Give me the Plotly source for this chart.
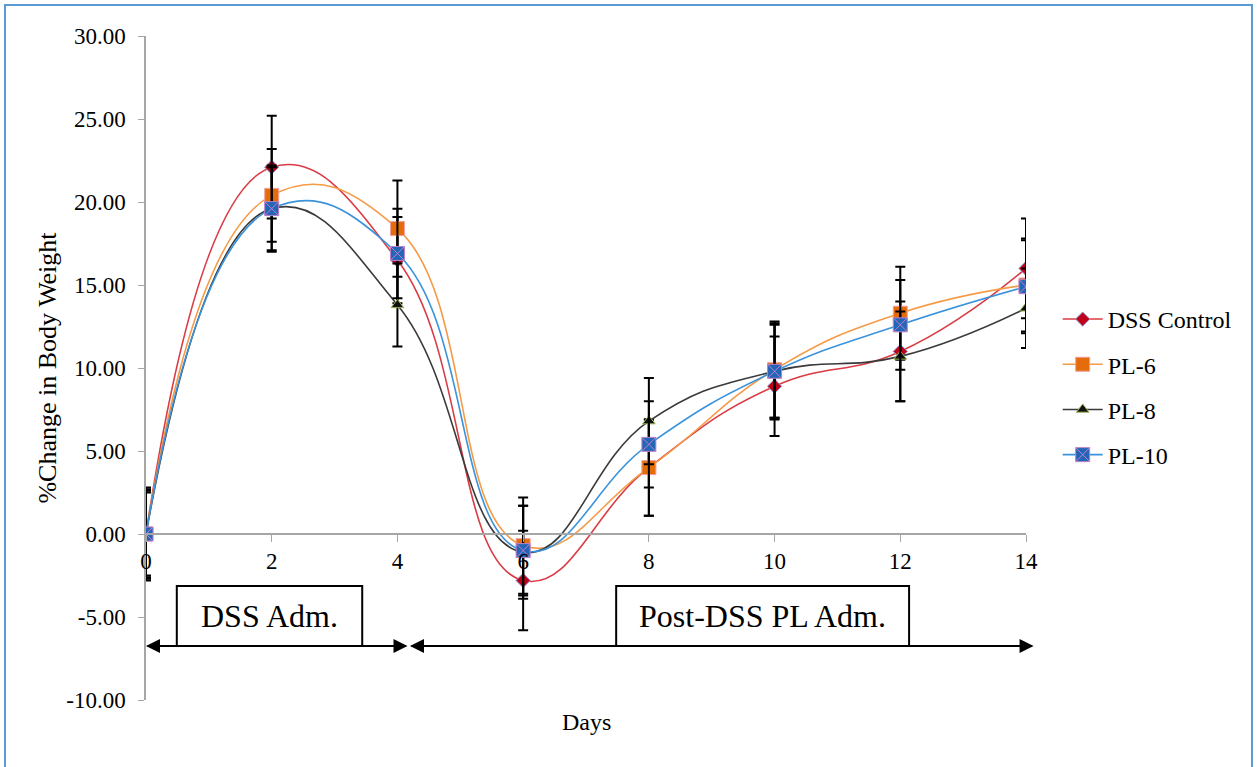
import plotly.graph_objects as go

days = [0, 2, 4, 6, 8, 10, 12, 14]
series_names = ["DSS Control", "PL-6", "PL-8", "PL-10"]
dss_control = [0.0, 22.1, 16.5, -2.8, 4.0, 8.9, 11.0, 16.0]
pl6 = [0.0, 20.4, 18.4, -0.7, 4.0, 9.9, 13.3, 15.0]
pl8 = [0.0, 19.6, 13.8, -1.1, 6.8, 9.8, 10.7, 13.6]
pl10 = [0.0, 19.6, 16.9, -1.0, 5.4, 9.8, 12.6, 14.9]
err_dss = [2.8, 3.1, 2.6, 3.0, 2.9, 3.0, 3.0, 3.0]
err_pl6 = [2.7, 2.8, 2.9, 2.9, 2.9, 2.9, 2.8, 2.8]
err_pl8 = [2.6, 2.6, 2.5, 2.8, 2.6, 2.9, 2.7, 2.4]
err_pl10 = [2.5, 2.5, 2.7, 2.7, 2.6, 2.8, 2.7, 2.8]
y_ticks = [-10, -5, 0, 5, 10, 15, 20, 25, 30]
y_tick_labels = ["-10.00", "-5.00", "0.00", "5.00", "10.00", "15.00", "20.00", "25.00", "30.00"]

values = [dss_control, pl6, pl8, pl10]
errors = [err_dss, err_pl6, err_pl8, err_pl10]
line_colors = ["#DA3B44", "#F59A45", "#3A3A3A", "#3B93DB"]
marker_fill = ["#C0001A", "#E46C0A", "#111111", "#2366B8"]
marker_edge = ["#8EA9DB", "#F0A0A0", "#9BBB59", "#C080C8"]
symbols = ["diamond", "square", "triangle-up", "square-x"]
sizes = [11, 14, 11, 14]

FONT = "Liberation Serif, Times New Roman, serif"

fig = go.Figure()
for i, name in enumerate(series_names):
    fig.add_trace(go.Scatter(
        x=days, y=values[i], name=name, mode="lines+markers",
        legendgroup=name,
        line=dict(color=line_colors[i], width=1.6, shape="spline", smoothing=1.3),
        marker=dict(symbol=symbols[i], size=sizes[i], color=marker_fill[i],
                    line=dict(color=marker_edge[i], width=1)),
        error_y=dict(type="data", array=errors[i], visible=True,
                     color="black", thickness=2, width=5),
    ))

# Annotation boxes and arrows
arrow_y = -6.75
fig.add_shape(type="rect", xref="x", yref="y", x0=0.49, x1=3.44, y0=-3.13, y1=arrow_y,
              line=dict(color="black", width=2), fillcolor="white", layer="above")
fig.add_shape(type="rect", xref="x", yref="y", x0=7.48, x1=12.14, y0=-3.13, y1=arrow_y,
              line=dict(color="black", width=2), fillcolor="white", layer="above")
fig.add_annotation(x=1.965, y=-4.95, xref="x", yref="y", text="DSS Adm.", showarrow=False,
                   font=dict(family=FONT, size=32, color="black"))
fig.add_annotation(x=9.81, y=-4.95, xref="x", yref="y", text="Post-DSS PL Adm.", showarrow=False,
                   font=dict(family=FONT, size=32, color="black"))
for (xa, xb) in [(0.0, 4.16), (4.2, 14.12)]:
    for (tip, tail) in [(xa, xb), (xb, xa)]:
        fig.add_annotation(x=tip, y=arrow_y, ax=tail, ay=arrow_y, xref="x", yref="y",
                           axref="x", ayref="y", text="", showarrow=True,
                           arrowhead=2, arrowsize=1.4, arrowwidth=2, arrowcolor="black",
                           standoff=0, startstandoff=0)

# Outer border
fig.add_shape(type="rect", xref="paper", yref="paper", x0=-0.1602, x1=1.2568, y0=-0.2, y1=1.0467,
              line=dict(color="#5B9BD5", width=2), fillcolor="rgba(0,0,0,0)", layer="below")

fig.update_layout(
    width=1257, height=767,
    margin=dict(l=146, r=231, t=36, b=67),
    paper_bgcolor="white", plot_bgcolor="white",
    font=dict(family=FONT, color="black"),
    showlegend=True,
    legend=dict(x=1.036, y=0.607, xanchor="left", yanchor="top",
                font=dict(family=FONT, size=24, color="black"),
                tracegroupgap=11, itemwidth=40, bgcolor="rgba(0,0,0,0)"),
    xaxis=dict(range=[0, 14], tickvals=days, ticktext=[str(d) for d in days],
               showgrid=False, zeroline=False, showline=True, linecolor="#A6A6A6", linewidth=1.5,
               ticks="outside", ticklen=7, tickcolor="#A6A6A6",
               anchor="free", position=0.25,
               tickfont=dict(family=FONT, size=23, color="black")),
    yaxis=dict(range=[-10, 30], tickvals=y_ticks, ticktext=y_tick_labels,
               showgrid=False, zeroline=False, showline=True, linecolor="#A6A6A6", linewidth=1.5,
               ticks="outside", ticklen=6, tickcolor="#A6A6A6", ticklabelstandoff=8,
               tickfont=dict(family=FONT, size=23, color="black"),
               title=dict(text="%Change in Body Weight", font=dict(family=FONT, size=26), standoff=2)),
)
fig.add_annotation(x=0.5, y=-0.033, xref="paper", yref="paper", text="Days", showarrow=False,
                   yanchor="middle", font=dict(family=FONT, size=24, color="black"))

fig.write_html("out.html", post_script="document.body.style.margin='0';",
               config={"displayModeBar": False})
